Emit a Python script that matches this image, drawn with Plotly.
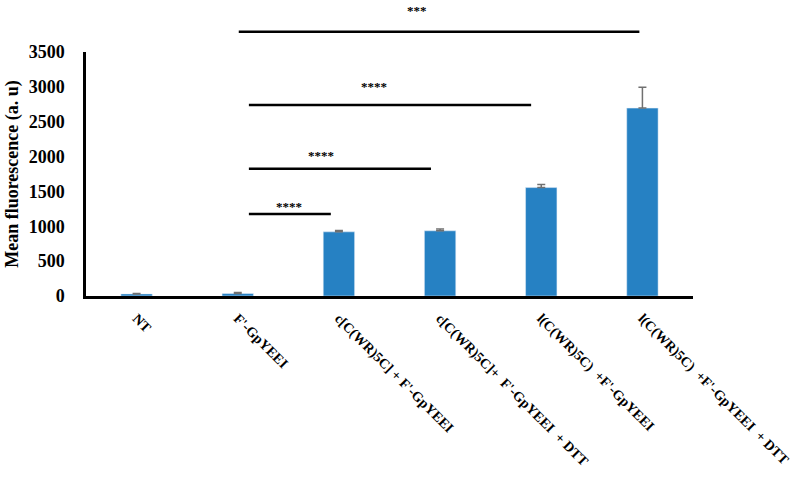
import plotly.graph_objects as go

categories = ["NT", "F'-GpYEEI", "c[C(WR)5C] + F'-GpYEEI",
              "c[C(WR)5C]+  F'-GpYEEI  + DTT", "l(C(WR)5C)  +F'-GpYEEI",
              "l(C(WR)5C)  +F'-GpYEEI  + DTT"]
means = [30, 35, 920, 935, 1555, 2695]
errors = [5, 15, 20, 25, 45, 300]

# significance brackets (values in data units)
sig_x0 = [1.01, 1.11, 1.11, 1.11]
sig_x1 = [4.97, 3.9, 2.91, 1.92]
sig_line = [3790, 2740, 1825, 1175]
sig_text_x = [2.77, 2.35, 1.82, 1.51]
sig_text_y = [4230, 3140, 2010, 1290]
sig_labels = ["***", "****", "****", "****"]

YMAX = 3500
serif = "Liberation Serif, Times New Roman, serif"

fig = go.Figure()
fig.add_trace(go.Bar(
    x=list(range(len(categories))), y=means,
    marker=dict(color="#2681C3"),
    width=0.31,
    error_y=dict(type="data", symmetric=False, array=errors,
                 arrayminus=[0] * len(errors),
                 color="#707070", thickness=1.5, width=4),
))

# brackets go above the axis range, so place them on the paper in axis fractions
for x0, x1, ly, tx, ty, lab in zip(sig_x0, sig_x1, sig_line, sig_text_x, sig_text_y, sig_labels):
    fig.add_shape(type="line", xref="x", yref="paper", x0=x0, x1=x1,
                  y0=ly / YMAX, y1=ly / YMAX, line=dict(color="black", width=2.5))
    fig.add_annotation(x=tx, y=ty / YMAX, text="<b>" + lab + "</b>",
                       showarrow=False, xref="x", yref="paper",
                       font=dict(family=serif, size=13, color="black"))

fig.update_layout(
    width=794, height=500,
    paper_bgcolor="white", plot_bgcolor="white",
    margin=dict(l=86, r=101, t=52, b=204),
    showlegend=False,
    font=dict(family=serif, color="black"),
)
fig.update_xaxes(
    tickmode="array", tickvals=list(range(len(categories))),
    ticktext=["<b>" + c + "</b>" for c in categories],
    tickangle=45, range=[-0.5, 5.5], automargin=False,
    showline=True, linecolor="black", linewidth=2.5,
    ticks="", showgrid=False, zeroline=False,
    tickfont=dict(family=serif, size=14, color="black"),
    ticklabelstandoff=6, ticklabeloverflow="allow",
)
fig.update_yaxes(
    range=[0, YMAX], dtick=500, automargin=False,
    showline=True, linecolor="black", linewidth=2.5,
    ticks="", showgrid=False, zeroline=False,
    tickfont=dict(family=serif, size=18, color="black"),
    tickprefix="<b>", ticksuffix="</b>",
    title=dict(text="<b>Mean fluorescence (a. u)</b>",
               font=dict(family=serif, size=18, color="black"), standoff=6),
    ticklabelstandoff=15,
)

# drop the default 8px page margin so the figure sits at the window corner
fig.write_html("out.html", config={"displayModeBar": False},
               post_script="document.body.style.margin='0';")
